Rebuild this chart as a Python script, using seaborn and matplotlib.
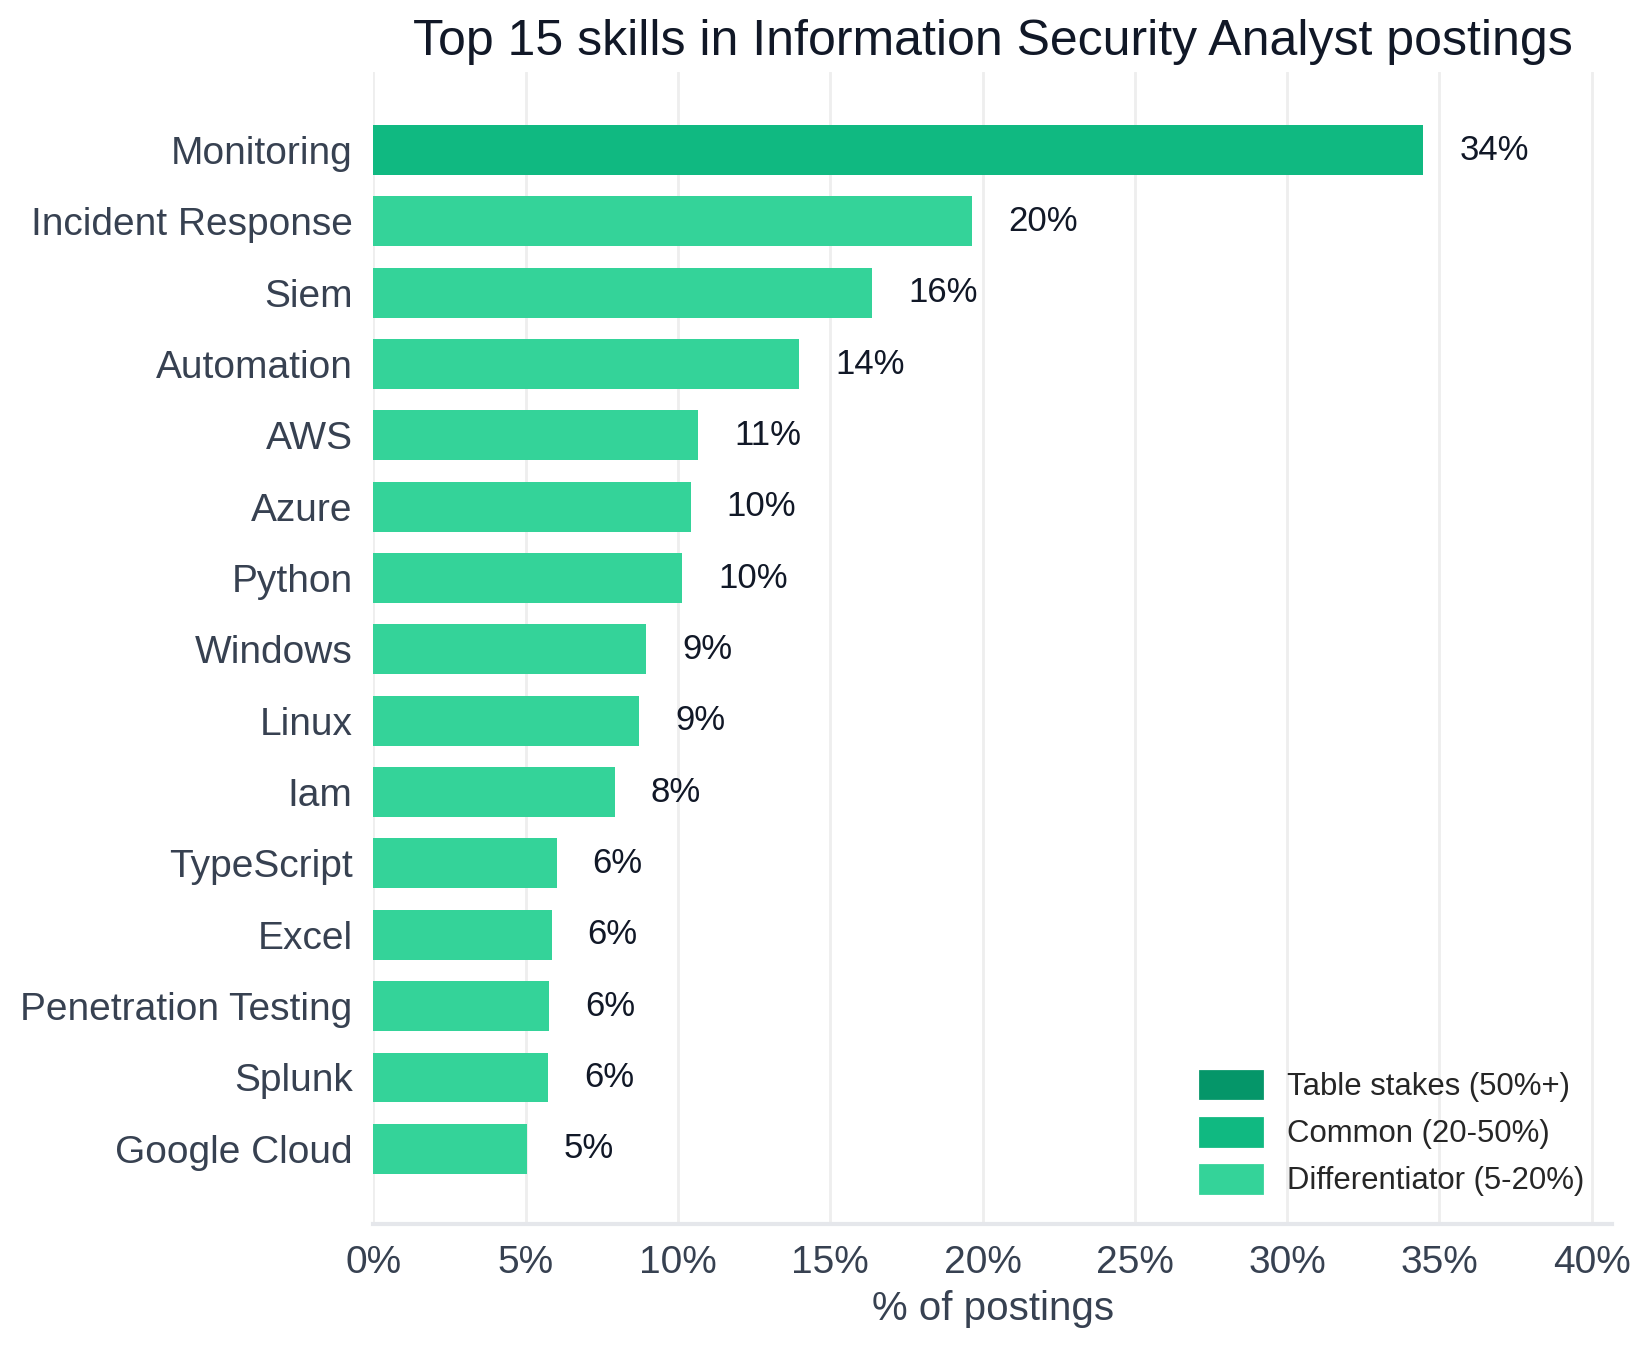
import matplotlib
matplotlib.use("Agg")
import matplotlib.pyplot as plt
from matplotlib.patches import Patch
from matplotlib.ticker import FuncFormatter
import pandas as pd
import seaborn as sns

skills = [
    "Monitoring", "Incident Response", "Siem", "Automation", "AWS", "Azure",
    "Python", "Windows", "Linux", "Iam", "TypeScript", "Excel",
    "Penetration Testing", "Splunk", "Google Cloud",
]
pct = [34.47, 19.65, 16.37, 13.98, 10.66, 10.42, 10.14, 8.96, 8.72, 7.92,
       6.02, 5.85, 5.78, 5.74, 5.05]

tier_names = ["Table stakes (50%+)", "Common (20-50%)", "Differentiator (5-20%)"]
tier_colors = ["#059669", "#10b981", "#34d399"]


def tier_color(v):
    if v >= 50:
        return tier_colors[0]
    if v >= 20 or v == max(pct):
        return tier_colors[1]
    return tier_colors[2]


df = pd.DataFrame({"skill": skills, "pct": pct})
colors = [tier_color(v) for v in pct]

sns.set_theme(style="whitegrid")
plt.rcParams["font.family"] = ["Liberation Sans", "DejaVu Sans"]

fig, ax = plt.subplots(figsize=(8.26, 6.75), dpi=200)
sns.barplot(data=df, x="pct", y="skill", hue="skill", palette=colors,
            legend=False, width=0.7, saturation=1, linewidth=0, ax=ax)

xmax = max(pct) * 1.18
ax.set_xlim(0, xmax)
ax.set_ylim(len(skills) - 1 + 1.06, -1.1)
ax.set_xticks(range(0, 41, 5))
ax.xaxis.set_major_formatter(FuncFormatter(lambda v, p: f"{v:.0f}%"))

for i, v in enumerate(pct):
    ax.text(v + xmax * 0.029, i, f"{v:.0f}%", va="center", ha="left",
            fontsize=12.5, color="#111827")

ax.set_title("Top 15 skills in Information Security Analyst postings",
             fontsize=18, color="#111827", pad=6)
ax.set_xlabel("% of postings", fontsize=14.5, color="#374151", labelpad=3)
ax.set_ylabel("")
ax.tick_params(axis="both", labelsize=14, colors="#374151", length=4,
               width=1)

ax.grid(axis="x", color="#eeeeee", linewidth=1)
ax.grid(axis="y", visible=False)
for s in ["top", "right", "left"]:
    ax.spines[s].set_visible(False)
ax.spines["bottom"].set_color("#e5e7eb")
ax.spines["bottom"].set_linewidth(1.5)

handles = [Patch(color=c, label=n) for c, n in zip(tier_colors, tier_names)]
ax.legend(handles=handles, loc="lower right", frameon=False, fontsize=11.2,
          handlelength=2.0, handleheight=1.0)

fig.subplots_adjust(left=0.226, right=0.976, top=0.947, bottom=0.093)
fig.savefig("out.png", dpi=200)
